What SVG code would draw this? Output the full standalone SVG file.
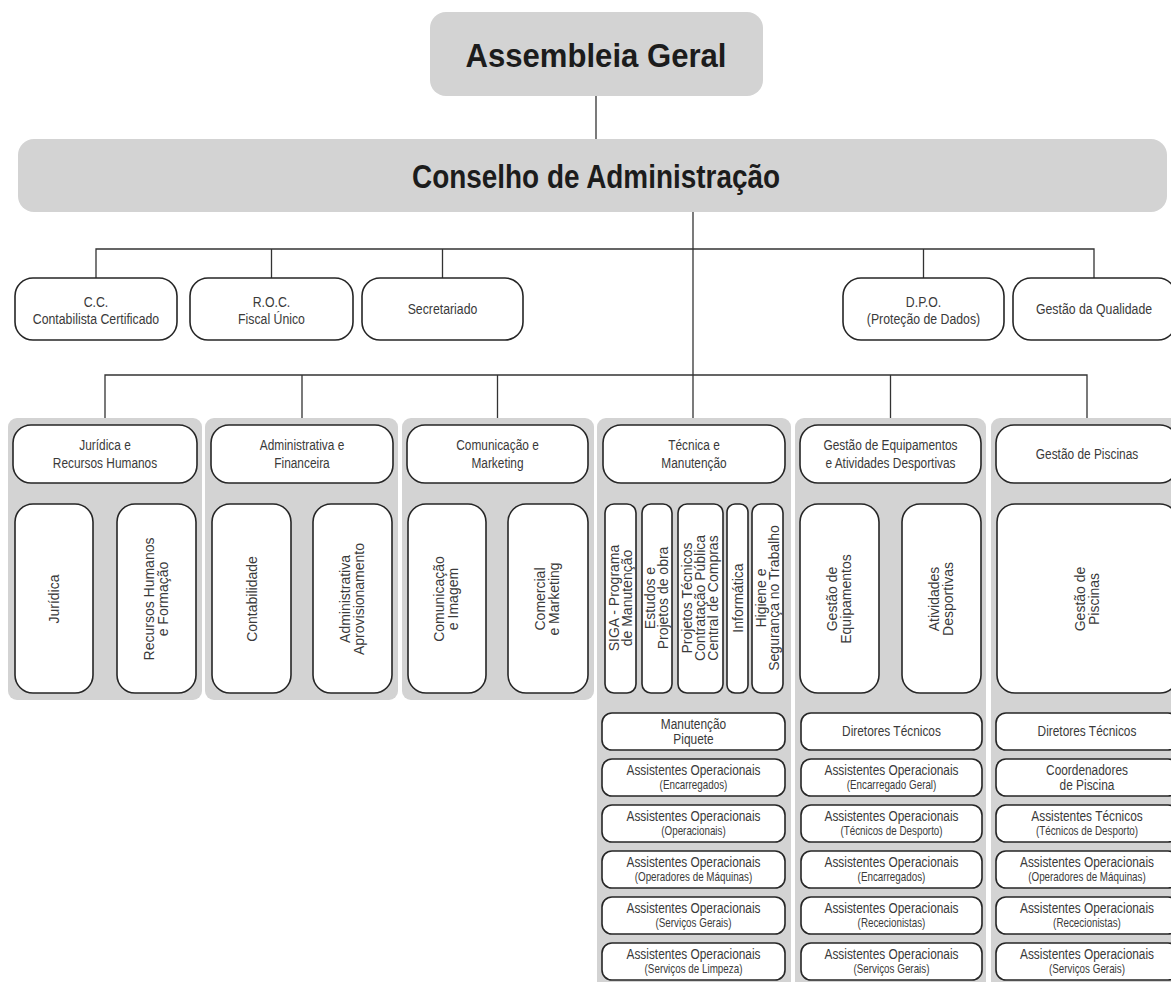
<svg xmlns="http://www.w3.org/2000/svg" width="1171" height="982" viewBox="0 0 1171 982">
<style>
.title{fill:#d3d3d3}
.tt{font-family:"Liberation Sans",Arial,sans-serif;font-weight:bold;font-size:33px;fill:#1c1c1c;text-anchor:middle}
.panel{fill:#d3d3d3}
.box{fill:#fff;stroke:#262626;stroke-width:1.6}
.c{font-family:"Liberation Sans",Arial,sans-serif;fill:#3a3a3a;text-anchor:middle}
.r1{font-size:15px}
.h{font-size:14.5px}
.l1{font-size:14.5px}
.l2{font-size:12px}
.v{font-family:"Liberation Sans",Arial,sans-serif;font-size:14px;fill:#3a3a3a;text-anchor:middle}
.ln{stroke:#333;stroke-width:1.3;fill:none}
</style>
<g id="connectors">
<path class="ln" d="M596 96V139"/>
<path class="ln" d="M693 212V418"/>
<path class="ln" d="M96 278V249H1094V278M271.5 249V278M442.5 249V278M923.5 249V278"/>
<path class="ln" d="M105 418V375H1087V418M302 375V418M497.5 375V418M890.5 375V418"/>
</g>
<g id="assembleia"><rect class="title" x="430" y="12" width="333" height="84" rx="16"/><text class="tt" x="596" y="67" textLength="261" lengthAdjust="spacingAndGlyphs">Assembleia Geral</text></g>
<g id="conselho"><rect class="title" x="18" y="139" width="1149" height="73" rx="16"/><text class="tt" x="596" y="188" textLength="368" lengthAdjust="spacingAndGlyphs">Conselho de Administração</text></g>

<g id="cc"><rect class="box" x="15" y="278" width="162" height="62" rx="18"/><text class="c r1" transform="translate(96 307) scale(.82 1)">C.C.</text><text class="c r1" transform="translate(96 324) scale(.82 1)">Contabilista Certificado</text></g>
<g id="roc"><rect class="box" x="190" y="278" width="163" height="62" rx="18"/><text class="c r1" transform="translate(271.5 307) scale(.82 1)">R.O.C.</text><text class="c r1" transform="translate(271.5 324) scale(.82 1)">Fiscal Único</text></g>
<g id="secretariado"><rect class="box" x="362" y="278" width="161" height="62" rx="18"/><text class="c r1" transform="translate(442.5 314) scale(.82 1)">Secretariado</text></g>
<g id="dpo"><rect class="box" x="843" y="278" width="161" height="62" rx="18"/><text class="c r1" transform="translate(923.5 307) scale(.82 1)">D.P.O.</text><text class="c r1" transform="translate(923.5 324) scale(.82 1)">(Proteção de Dados)</text></g>
<g id="qualidade"><rect class="box" x="1013" y="278" width="163" height="62" rx="18"/><text class="c r1" transform="translate(1094 314) scale(.82 1)">Gestão da Qualidade</text></g>

<g id="juridica-rh">
<rect class="panel" x="8" y="418" width="194" height="282" rx="9"/>
<rect class="box" x="13" y="425" width="184" height="58" rx="18"/>
<text class="c h" transform="translate(105 450) scale(.82 1)">Jurídica e</text><text class="c h" transform="translate(105 468) scale(.82 1)">Recursos Humanos</text>
<rect class="box" x="15" y="504" width="78" height="189" rx="18"/>
<text class="v" transform="translate(59 599) rotate(-90)">Jurídica</text>
<rect class="box" x="117" y="504" width="79" height="189" rx="18"/>
<text class="v" transform="translate(153.5 599) rotate(-90)">Recursos Humanos</text>
<text class="v" transform="translate(167.5 599) rotate(-90)">e Formação</text>
</g>

<g id="adm-fin">
<rect class="panel" x="205" y="418" width="193" height="282" rx="9"/>
<rect class="box" x="211" y="425" width="182" height="58" rx="18"/>
<text class="c h" transform="translate(302 450) scale(.82 1)">Administrativa e</text><text class="c h" transform="translate(302 468) scale(.82 1)">Financeira</text>
<rect class="box" x="212" y="504" width="79" height="189" rx="18"/>
<text class="v" transform="translate(256.5 599) rotate(-90)">Contabilidade</text>
<rect class="box" x="313" y="504" width="79" height="189" rx="18"/>
<text class="v" transform="translate(349.5 599) rotate(-90)">Administrativa</text>
<text class="v" transform="translate(363.5 599) rotate(-90)">Aprovisionamento</text>
</g>

<g id="com-mkt">
<rect class="panel" x="402" y="418" width="192" height="282" rx="9"/>
<rect class="box" x="407" y="425" width="181" height="58" rx="18"/>
<text class="c h" transform="translate(497.5 450) scale(.82 1)">Comunicação e</text><text class="c h" transform="translate(497.5 468) scale(.82 1)">Marketing</text>
<rect class="box" x="408" y="504" width="78" height="189" rx="18"/>
<text class="v" transform="translate(444 599) rotate(-90)">Comunicação</text>
<text class="v" transform="translate(458 599) rotate(-90)">e Imagem</text>
<rect class="box" x="508" y="504" width="80" height="189" rx="18"/>
<text class="v" transform="translate(545 599) rotate(-90)">Comercial</text>
<text class="v" transform="translate(559 599) rotate(-90)">e Marketing</text>
</g>

<g id="tecnica">
<rect class="panel" x="597" y="418" width="194" height="572" rx="9"/>
<rect class="box" x="603" y="425" width="182" height="58" rx="18"/>
<text class="c h" transform="translate(694 450) scale(.82 1)">Técnica e</text><text class="c h" transform="translate(694 468) scale(.82 1)">Manutenção</text>
<rect class="box" x="605" y="504" width="31" height="189" rx="9"/>
<text class="v" transform="translate(618.5 598) rotate(-90)">SIGA - Programa</text>
<text class="v" transform="translate(631.5 598) rotate(-90)">de Manutenção</text>
<rect class="box" x="642" y="504" width="30" height="189" rx="9"/>
<text class="v" transform="translate(655 598) rotate(-90)">Estudos e</text>
<text class="v" transform="translate(668 598) rotate(-90)">Projetos de obra</text>
<rect class="box" x="678" y="504" width="45" height="189" rx="9"/>
<text class="v" transform="translate(692 598) rotate(-90)">Projetos Técnicos</text>
<text class="v" transform="translate(705 598) rotate(-90)">Contratação Pública</text>
<text class="v" transform="translate(718 598) rotate(-90)">Central de Compras</text>
<rect class="box" x="727" y="504" width="21" height="189" rx="8"/>
<text class="v" transform="translate(742.5 598) rotate(-90)">Informática</text>
<rect class="box" x="752" y="504" width="31" height="189" rx="9"/>
<text class="v" transform="translate(766 598) rotate(-90)">Higiene e</text>
<text class="v" transform="translate(779 598) rotate(-90)">Segurança no Trabalho</text>
<rect class="box" x="602" y="713" width="183" height="37" rx="10"/>
<text class="c l1" transform="translate(693.5 729) scale(.82 1)">Manutenção</text><text class="c l1" transform="translate(693.5 744) scale(.82 1)">Piquete</text>
<rect class="box" x="602" y="759" width="183" height="37" rx="10"/>
<text class="c l1" transform="translate(693.5 775) scale(.82 1)">Assistentes Operacionais</text><text class="c l2" transform="translate(693.5 789) scale(.82 1)">(Encarregados)</text>
<rect class="box" x="602" y="805" width="183" height="37" rx="10"/>
<text class="c l1" transform="translate(693.5 821) scale(.82 1)">Assistentes Operacionais</text><text class="c l2" transform="translate(693.5 835) scale(.82 1)">(Operacionais)</text>
<rect class="box" x="602" y="851" width="183" height="37" rx="10"/>
<text class="c l1" transform="translate(693.5 867) scale(.82 1)">Assistentes Operacionais</text><text class="c l2" transform="translate(693.5 881) scale(.82 1)">(Operadores de Máquinas)</text>
<rect class="box" x="602" y="897" width="183" height="37" rx="10"/>
<text class="c l1" transform="translate(693.5 913) scale(.82 1)">Assistentes Operacionais</text><text class="c l2" transform="translate(693.5 927) scale(.82 1)">(Serviços Gerais)</text>
<rect class="box" x="602" y="943" width="183" height="37" rx="10"/>
<text class="c l1" transform="translate(693.5 959) scale(.82 1)">Assistentes Operacionais</text><text class="c l2" transform="translate(693.5 973) scale(.82 1)">(Serviços de Limpeza)</text>
</g>

<g id="equipamentos">
<rect class="panel" x="795" y="418" width="191" height="572" rx="9"/>
<rect class="box" x="800" y="425" width="181" height="58" rx="18"/>
<text class="c h" transform="translate(890.5 450) scale(.82 1)">Gestão de Equipamentos</text><text class="c h" transform="translate(890.5 468) scale(.82 1)">e Atividades Desportivas</text>
<rect class="box" x="800" y="504" width="79" height="189" rx="18"/>
<text class="v" transform="translate(836.5 599) rotate(-90)">Gestão de</text>
<text class="v" transform="translate(850.5 599) rotate(-90)">Equipamentos</text>
<rect class="box" x="902" y="504" width="79" height="189" rx="18"/>
<text class="v" transform="translate(938.5 599) rotate(-90)">Atividades</text>
<text class="v" transform="translate(952.5 599) rotate(-90)">Desportivas</text>
<rect class="box" x="801" y="713" width="181" height="37" rx="10"/>
<text class="c l1" transform="translate(891.5 736) scale(.82 1)">Diretores Técnicos</text>
<rect class="box" x="801" y="759" width="181" height="37" rx="10"/>
<text class="c l1" transform="translate(891.5 775) scale(.82 1)">Assistentes Operacionais</text><text class="c l2" transform="translate(891.5 789) scale(.82 1)">(Encarregado Geral)</text>
<rect class="box" x="801" y="805" width="181" height="37" rx="10"/>
<text class="c l1" transform="translate(891.5 821) scale(.82 1)">Assistentes Operacionais</text><text class="c l2" transform="translate(891.5 835) scale(.82 1)">(Técnicos de Desporto)</text>
<rect class="box" x="801" y="851" width="181" height="37" rx="10"/>
<text class="c l1" transform="translate(891.5 867) scale(.82 1)">Assistentes Operacionais</text><text class="c l2" transform="translate(891.5 881) scale(.82 1)">(Encarregados)</text>
<rect class="box" x="801" y="897" width="181" height="37" rx="10"/>
<text class="c l1" transform="translate(891.5 913) scale(.82 1)">Assistentes Operacionais</text><text class="c l2" transform="translate(891.5 927) scale(.82 1)">(Rececionistas)</text>
<rect class="box" x="801" y="943" width="181" height="37" rx="10"/>
<text class="c l1" transform="translate(891.5 959) scale(.82 1)">Assistentes Operacionais</text><text class="c l2" transform="translate(891.5 973) scale(.82 1)">(Serviços Gerais)</text>
</g>

<g id="piscinas">
<rect class="panel" x="991" y="418" width="190" height="572" rx="9"/>
<rect class="box" x="996" y="425" width="182" height="58" rx="18"/>
<text class="c h" transform="translate(1087 459) scale(.82 1)">Gestão de Piscinas</text>
<rect class="box" x="997" y="504" width="181" height="189" rx="18"/>
<text class="v" transform="translate(1085 599) rotate(-90)">Gestão de</text>
<text class="v" transform="translate(1099 599) rotate(-90)">Piscinas</text>
<rect class="box" x="996" y="713" width="182" height="37" rx="10"/>
<text class="c l1" transform="translate(1087 736) scale(.82 1)">Diretores Técnicos</text>
<rect class="box" x="996" y="759" width="182" height="37" rx="10"/>
<text class="c l1" transform="translate(1087 775) scale(.82 1)">Coordenadores</text><text class="c l1" transform="translate(1087 790) scale(.82 1)">de Piscina</text>
<rect class="box" x="996" y="805" width="182" height="37" rx="10"/>
<text class="c l1" transform="translate(1087 821) scale(.82 1)">Assistentes Técnicos</text><text class="c l2" transform="translate(1087 835) scale(.82 1)">(Técnicos de Desporto)</text>
<rect class="box" x="996" y="851" width="182" height="37" rx="10"/>
<text class="c l1" transform="translate(1087 867) scale(.82 1)">Assistentes Operacionais</text><text class="c l2" transform="translate(1087 881) scale(.82 1)">(Operadores de Máquinas)</text>
<rect class="box" x="996" y="897" width="182" height="37" rx="10"/>
<text class="c l1" transform="translate(1087 913) scale(.82 1)">Assistentes Operacionais</text><text class="c l2" transform="translate(1087 927) scale(.82 1)">(Rececionistas)</text>
<rect class="box" x="996" y="943" width="182" height="37" rx="10"/>
<text class="c l1" transform="translate(1087 959) scale(.82 1)">Assistentes Operacionais</text><text class="c l2" transform="translate(1087 973) scale(.82 1)">(Serviços Gerais)</text>
</g>
</svg>
